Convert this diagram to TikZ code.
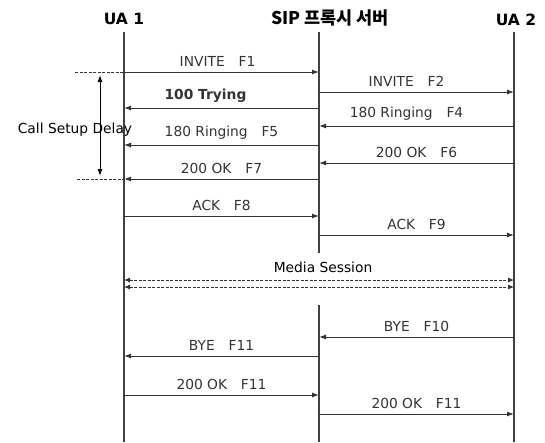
\documentclass[tikz,border=0pt]{standalone}
\usepackage{fontspec}
\setmainfont{DejaVu Sans}
\newfontfamily\krfont{Noto Sans CJK KR}
\usetikzlibrary{arrows.meta, positioning}

\begin{document}
\begin{tikzpicture}[
    x=1pt, y=-1pt,
    every node/.style={font=\fontsize{13.8}{16}\selectfont, inner sep=1pt},
    head/.style={font=\fontsize{15.5}{18}\selectfont\bfseries},
    life/.style={line width=1.1pt, color=black!75},
    msg/.style={line width=1pt, color=black!80, -{Latex[length=7pt,width=5pt]}},
    lbl/.style={above=4pt, midway},
    media/.style={line width=0.9pt, color=black!80, dash pattern=on 3pt off 1.5pt, {Latex[length=6pt,width=5pt]}-{Latex[length=6pt,width=5pt]}},
    guide/.style={line width=0.8pt, color=black!80, dash pattern=on 3pt off 1.5pt}
]
\useasboundingbox (0,0) rectangle (545,442);

% participants
\node[head] (ua1) at (124,19) {UA 1};
\node[head, font=\fontsize{17.5}{20}\selectfont\bfseries] (proxy) at (330,18) {\krfont SIP 프록시 서버};
\node[head] (ua2) at (516,20) {UA 2};

% lifelines
\coordinate (ua1-top) at (124,32);
\coordinate (ua1-bot) at (124,442);
\coordinate (proxy-top) at (319,32);
\coordinate (proxy-cut) at (319,253);
\coordinate (proxy-on) at (319,305);
\coordinate (proxy-bot) at (319,442);
\coordinate (ua2-top) at (514,32);
\coordinate (ua2-bot) at (514,442);
\draw[life] (ua1-top) -- (ua1-bot);
\draw[life] (proxy-top) -- (proxy-cut);
\draw[life] (proxy-on) -- (proxy-bot);
\draw[life] (ua2-top) -- (ua2-bot);

% message rows: a = UA 1, p = proxy, b = UA 2
\foreach \r/\y in {f1/72, f2/92, try/108, f4/126, f5/145, f6/163, f7/179, f8/216, f9/235,
                   ms1/280, ms2/287, f10/337, f11a/356, f11b/395, f11c/414} {
    \coordinate (\r-a) at (124,\y);
    \coordinate (\r-p) at (319,\y);
    \coordinate (\r-b) at (514,\y);
}

% call setup
\draw[msg] (f1-a) -- node[lbl, xshift=-4pt] {INVITE\quad F1} (f1-p);
\draw[msg] (f2-p) -- node[lbl, xshift=-10pt] {INVITE\quad F2} (f2-b);
\draw[msg] (try-p) -- node[lbl, xshift=-16pt] {\bfseries 100 Trying} (try-a);
\draw[msg] (f4-b) -- node[lbl, xshift=-10pt] {180 Ringing\quad F4} (f4-p);
\draw[msg] (f5-p) -- node[lbl] {180 Ringing\quad F5} (f5-a);
\draw[msg] (f6-b) -- node[lbl] {200 OK\quad F6} (f6-p);
\draw[msg] (f7-p) -- node[lbl] {200 OK\quad F7} (f7-a);
\draw[msg] (f8-a) -- node[lbl] {ACK\quad F8} (f8-p);
\draw[msg] (f9-p) -- node[lbl] {ACK\quad F9} (f9-b);

% delay marker
\coordinate (csd-top) at (75,72);
\coordinate (csd-bot) at (77,179);
\coordinate (csd-up) at (100,75);
\coordinate (csd-down) at (100,176);
\draw[guide] (csd-top) -- (f1-a);
\draw[guide] (csd-bot) -- (f7-a);
\node (csd) at (75,130) {Call Setup Delay};
\draw[line width=1pt, {Latex[length=7pt,width=5pt]}-{Latex[length=7pt,width=5pt]}] (csd-up) -- (csd-down);

% media
\node (media) at (323,267) {Media Session};
\draw[media] (ms1-a) -- (ms1-b);
\draw[media] (ms2-a) -- (ms2-b);

% teardown
\draw[msg] (f10-b) -- node[lbl] {BYE\quad F10} (f10-p);
\draw[msg] (f11a-p) -- node[lbl] {BYE\quad F11} (f11a-a);
\draw[msg] (f11b-a) -- node[lbl] {200 OK\quad F11} (f11b-p);
\draw[msg] (f11c-p) -- node[lbl] {200 OK\quad F11} (f11c-b);

\end{tikzpicture}
\end{document}
